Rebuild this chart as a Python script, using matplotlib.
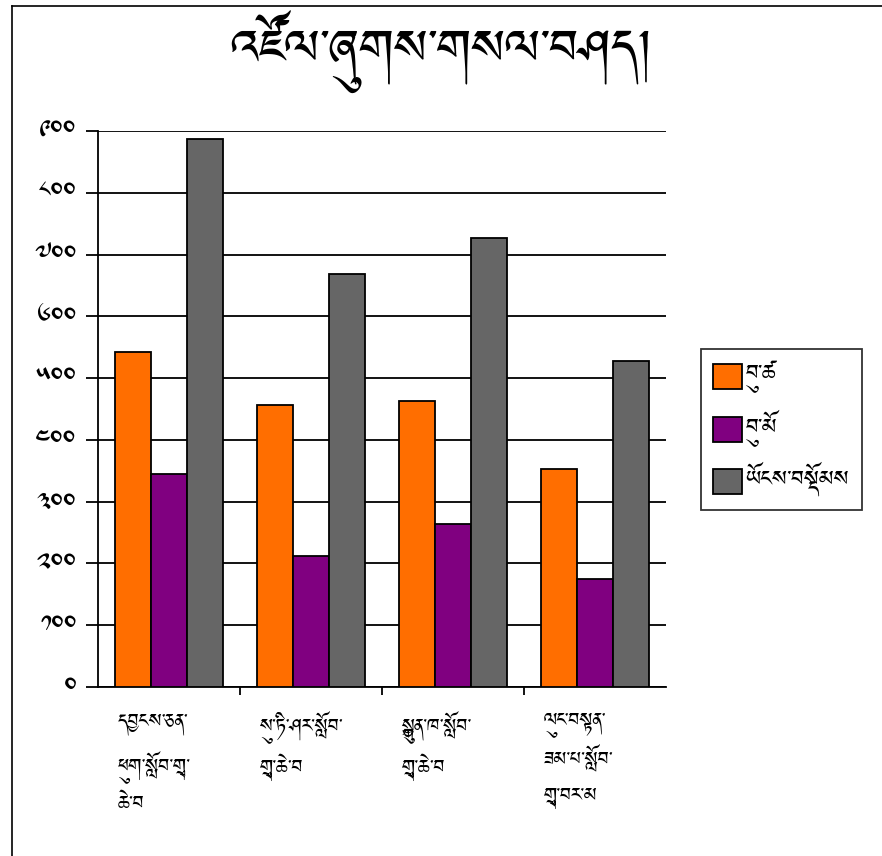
import matplotlib
matplotlib.use("Agg")
import matplotlib.pyplot as plt
import numpy as np

plt.rcParams["font.family"] = ["Jomolhari", "Noto Serif Tibetan", "DejaVu Sans"]

title = "འཛོལ་ཞུགས་གསལ་བཤད།"
schools = [
    "དབྱངས་ཅན་\nཕུག་སློབ་གྲྭ་\nཆེ་བ",
    "སུ་ཏི་ཤར་སློབ་\nགྲྭ་ཆེ་བ",
    "སྐྱུན་ཁ་སློབ་\nགྲྭ་ཆེ་བ",
    "ལུང་བསྟན་\nཟམ་པ་སློབ་\nགྲྭ་བར་མ",
]
series_names = ["བུ་ཚ", "བུ་མོ", "ཡོངས་བསྡོམས"]
boys = [543, 457, 463, 353]
girls = [344, 212, 264, 175]
total = [887, 669, 727, 528]
y_ticks = [0, 100, 200, 300, 400, 500, 600, 700, 800, 900]
y_tick_labels = ["༠", "༡༠༠", "༢༠༠", "༣༠༠", "༤༠༠", "༥༠༠", "༦༠༠", "༧༠༠", "༨༠༠", "༩༠༠"]
colors = ["#ff6e00", "#800080", "#666666"]

fig = plt.figure(figsize=(8.82, 8.56), dpi=100)
ax = fig.add_axes([98 / 882, 1 - 687 / 856, 568 / 882, 556 / 856])

x = np.arange(len(schools))
w = 0.254
for i, (vals, name) in enumerate(zip([boys, girls, total], series_names)):
    ax.bar(x + (i - 1) * w, vals, w, color=colors[i], edgecolor="black",
           linewidth=1.3, label=name, zorder=3)

ax.set_xlim(-0.5, len(schools) - 0.5)
ax.set_ylim(0, 900)
ax.set_yticks(y_ticks)
ax.set_yticklabels(y_tick_labels, fontsize=20)
ax.yaxis.grid(True, color="black", linewidth=1.3, zorder=0)
ax.tick_params(axis="y", length=8.5, width=1.3, pad=7)

ax.set_xticks(np.arange(len(schools) - 1) + 0.5)
ax.set_xticklabels([])
ax.tick_params(axis="x", length=6, width=1.3)
for s in ["top", "right"]:
    ax.spines[s].set_visible(False)
ax.spines["left"].set_linewidth(1.3)
ax.spines["bottom"].set_linewidth(1.3)

for i, lab in enumerate(schools):
    ax.text(i - 0.36, -40, lab, ha="left", va="top", fontsize=17,
            linespacing=1.55, transform=ax.transData, clip_on=False)

fig.text(0.5, 0.94, title, ha="center", va="center", fontsize=44)

leg = fig.legend(loc="upper left", bbox_to_anchor=(701 / 882, 1 - 349 / 856),
                 fontsize=19.5, frameon=True, fancybox=False, edgecolor="black",
                 handlelength=1.05, handleheight=1.05, labelspacing=0.6,
                 borderpad=0.45, handletextpad=0.15, borderaxespad=0)
leg.get_frame().set_linewidth(1.3)

# chart border on the left and top
fig.add_artist(plt.Line2D([12 / 882, 12 / 882], [0, 1 - 6 / 856], color="black", lw=1.2))
fig.add_artist(plt.Line2D([12 / 882, 1], [1 - 6 / 856, 1 - 6 / 856], color="black", lw=1.2))

fig.savefig("out.png", dpi=100)
